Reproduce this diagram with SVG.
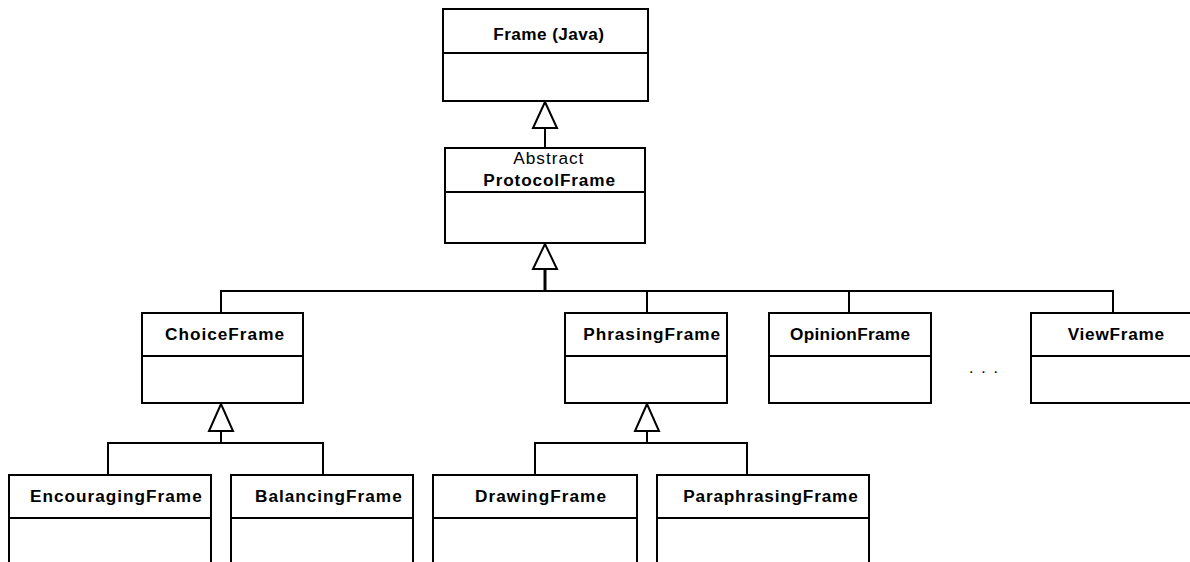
<svg xmlns="http://www.w3.org/2000/svg" width="1190" height="562" viewBox="0 0 1190 562">
<style>
.box{fill:#fff;stroke:#000;stroke-width:2}
.div{stroke:#000;stroke-width:2}
.t{font-family:"Liberation Sans",Arial,sans-serif;font-size:17.2px;font-weight:bold;fill:#000}
.r{font-family:"Liberation Sans",Arial,sans-serif;font-size:17.2px;fill:#000}
.c{fill:none;stroke:#000;stroke-width:2}
.h{fill:#fff;stroke:#000;stroke-width:2;stroke-linejoin:miter}
</style>
<rect width="1190" height="562" fill="#fff"/>
<g id="connectors">
<path class="c" d="M545,128V148"/>
<path class="c" d="M545,269V291" style="stroke-width:3"/>
<path class="c" d="M221,313V291H1113V313M647,291V313M849,291V313"/>
<path class="c" d="M221,431V443M108,475V443H323V475"/>
<path class="c" d="M647,431V443M535,475V443H747V475"/>
<polygon class="h" points="545,102 533,128 557,128"/>
<polygon class="h" points="545,244 533,269 557,269"/>
<polygon class="h" points="221,404 209,431 233,431"/>
<polygon class="h" points="647,404 635,431 659,431"/>
</g>
<g id="frame">
<rect class="box" x="443" y="9" width="205" height="92"/>
<line class="div" x1="443" y1="53" x2="648" y2="53"/>
<text class="t" x="493.3" y="39.5" textLength="110.7" lengthAdjust="spacing">Frame (Java)</text>
</g>
<g id="protocolframe">
<rect class="box" x="445" y="148" width="200" height="95"/>
<line class="div" x1="445" y1="192" x2="645" y2="192"/>
<text class="r" x="513.3" y="164" textLength="70" lengthAdjust="spacing">Abstract</text>
<text class="t" x="483.3" y="185.5" textLength="131.7" lengthAdjust="spacing">ProtocolFrame</text>
</g>
<g id="choiceframe">
<rect class="box" x="142" y="313" width="161" height="90"/>
<line class="div" x1="142" y1="356" x2="303" y2="356"/>
<text class="t" x="165" y="339.5" textLength="119" lengthAdjust="spacing">ChoiceFrame</text>
</g>
<g id="phrasingframe">
<rect class="box" x="565" y="313" width="162" height="90"/>
<line class="div" x1="565" y1="356" x2="727" y2="356"/>
<text class="t" x="583.3" y="339.5" textLength="136.7" lengthAdjust="spacing">PhrasingFrame</text>
</g>
<g id="opinionframe">
<rect class="box" x="769" y="313" width="162" height="90"/>
<line class="div" x1="769" y1="356" x2="931" y2="356"/>
<text class="t" x="790" y="339.5" textLength="120" lengthAdjust="spacing">OpinionFrame</text>
</g>
<g id="viewframe">
<rect class="box" x="1031" y="313" width="165" height="90"/>
<line class="div" x1="1031" y1="356" x2="1196" y2="356"/>
<text class="t" x="1067.7" y="339.5" textLength="96.3" lengthAdjust="spacing">ViewFrame</text>
</g>
<g id="ellipsis">
<text x="969" y="373" style="font-family:'Liberation Sans',Arial,sans-serif;font-size:16px;letter-spacing:1.7px;fill:#000">. . .</text>
</g>
<g id="encouragingframe">
<rect class="box" x="9" y="475" width="202" height="110"/>
<line class="div" x1="9" y1="518" x2="211" y2="518"/>
<text class="t" x="30" y="502" textLength="171.7" lengthAdjust="spacing">EncouragingFrame</text>
</g>
<g id="balancingframe">
<rect class="box" x="231" y="475" width="182" height="110"/>
<line class="div" x1="231" y1="518" x2="413" y2="518"/>
<text class="t" x="255" y="502" textLength="146.7" lengthAdjust="spacing">BalancingFrame</text>
</g>
<g id="drawingframe">
<rect class="box" x="433" y="475" width="204" height="110"/>
<line class="div" x1="433" y1="518" x2="637" y2="518"/>
<text class="t" x="475" y="502" textLength="131" lengthAdjust="spacing">DrawingFrame</text>
</g>
<g id="paraphrasingframe">
<rect class="box" x="657" y="475" width="212" height="110"/>
<line class="div" x1="657" y1="518" x2="869" y2="518"/>
<text class="t" x="683.3" y="502" textLength="174.4" lengthAdjust="spacing">ParaphrasingFrame</text>
</g>
</svg>
